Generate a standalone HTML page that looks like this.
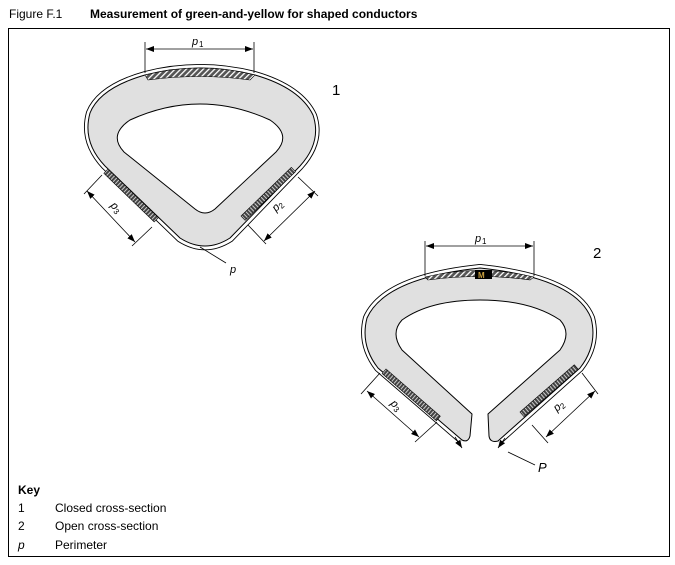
<!DOCTYPE html>
<html><head><meta charset="utf-8"><style>
html,body{margin:0;padding:0;background:#fff;width:675px;height:565px;overflow:hidden}
svg{display:block}
text{font-family:"Liberation Sans",Arial,sans-serif;fill:#000}
</style></head><body>
<svg width="675" height="565" viewBox="0 0 675 565" xmlns="http://www.w3.org/2000/svg">
<defs>
<pattern id="diag" width="4" height="4" patternUnits="userSpaceOnUse" patternTransform="rotate(45)">
<rect width="4" height="4" fill="#555"/><rect width="1.3" height="4" fill="#fff"/>
</pattern>
<pattern id="vs" width="3" height="6" patternUnits="userSpaceOnUse">
<rect width="3" height="6" fill="#444"/><rect width="1" height="6" fill="#ccc"/>
</pattern>
<marker id="ar" markerWidth="8" markerHeight="6" refX="8" refY="3" orient="auto" markerUnits="userSpaceOnUse">
<path d="M0,0 L8,3 L0,6 Z" fill="#000"/></marker>
<marker id="al" markerWidth="8" markerHeight="6" refX="0" refY="3" orient="auto" markerUnits="userSpaceOnUse">
<path d="M8,0 L0,3 L8,6 Z" fill="#000"/></marker>
</defs>
<text x="9" y="18" font-size="12">Figure F.1</text>
<text x="90" y="18" font-size="12" font-weight="bold">Measurement of green-and-yellow for shaped conductors</text>
<rect x="8.5" y="28.5" width="661" height="528" fill="none" stroke="#000" stroke-width="1"/>

<!-- Shape 1 -->
<g stroke-linejoin="round">
<path d="M145,73.5 Q200,59.5 255,73.5 Q301.5,87 314.5,115 Q323.5,142 301,167 L231,239.5 Q205,256 179,239.5 L104,167 Q80.5,142 88.5,112.5 Q99,86.5 145,73.5 Z" fill="none" stroke="#000" stroke-width="5"/>
<path d="M145,73.5 Q200,59.5 255,73.5 Q301.5,87 314.5,115 Q323.5,142 301,167 L231,239.5 Q205,256 179,239.5 L104,167 Q80.5,142 88.5,112.5 Q99,86.5 145,73.5 Z" fill="none" stroke="#fff" stroke-width="3.2"/>
<path fill-rule="evenodd" fill="#e0e0e0" stroke="#000" stroke-width="1" d="M145,75 Q200,61 255,75 Q300,88 313,115 Q322,142 300,166 L230,238 Q205,254 180,238 L105,166 Q82,142 90,113 Q100,88 145,75 Z M130,120 Q200,88 270,120 Q292,135 276,152 L215,209 Q205,217 195,209 L124,152 Q108,135 130,120 Z"/>
<path d="M145,75 Q200,61 255,75 L250,80 Q200,73 148,80 Z" fill="url(#diag)" stroke="#000" stroke-width="0.6"/>
<rect x="0" y="0" width="70" height="6" fill="url(#vs)" stroke="#000" stroke-width="0.6" transform="translate(108,169) rotate(44)"/>
<rect x="0" y="0" width="70" height="6" fill="url(#vs)" stroke="#000" stroke-width="0.6" transform="translate(241,216) rotate(-44)"/>
</g>
<g stroke="#000" stroke-width="0.8" fill="none">
<line x1="145" y1="42" x2="145" y2="73"/><line x1="254" y1="42" x2="254" y2="73"/>
<line x1="146" y1="49" x2="253" y2="49" marker-start="url(#al)" marker-end="url(#ar)"/>
<line x1="248" y1="225" x2="266" y2="244"/><line x1="298" y1="177" x2="318" y2="196"/>
<line x1="264" y1="241" x2="315" y2="191" marker-start="url(#al)" marker-end="url(#ar)"/>
<line x1="102" y1="175" x2="84" y2="194"/><line x1="152" y1="227" x2="132" y2="246"/>
<line x1="87" y1="191" x2="135" y2="242" marker-start="url(#al)" marker-end="url(#ar)"/>
<line x1="200" y1="247" x2="226" y2="263"/>
</g>
<text x="192" y="45" font-size="11" font-style="italic">p</text><text x="199" y="47" font-size="8">1</text>
<text x="332" y="95" font-size="15">1</text>
<text x="0" y="0" font-size="11" font-style="italic" transform="translate(276,212) rotate(-44)">p<tspan font-size="8" font-style="normal" dy="2">2</tspan></text>
<text x="0" y="0" font-size="11" font-style="italic" transform="translate(110,206) rotate(46)">p<tspan font-size="8" font-style="normal" dy="2">3</tspan></text>
<text x="230" y="273" font-size="11" font-style="italic">p</text>

<!-- Shape 2 -->
<g stroke-linejoin="round">
<path d="M461,441.5 L377,369 Q358.5,345 365.5,317.5 Q383.5,276.5 480,266.5 Q576.5,276.5 592.5,317.5 Q599.5,345 581,369 L499,442.5" fill="none" stroke="#000" stroke-width="5"/>
<path d="M461,441.5 L377,369 Q358.5,345 365.5,317.5 Q383.5,276.5 480,266.5 Q576.5,276.5 592.5,317.5 Q599.5,345 581,369 L499,442.5" fill="none" stroke="#fff" stroke-width="3.2"/>
<path fill="#e0e0e0" stroke="#000" stroke-width="1" d="M462,440 L378,368 Q360,345 367,318 Q385,278 480,268 Q575,278 591,318 Q598,345 580,368 L498,441 Q490,443 489,436 L488,414 L560,350 Q572,333 560,320 Q530,300 480,300 Q430,300 402,320 Q390,333 402,350 L472,414 L470,436 Q468,443 462,440 Z"/>
<path d="M425,277 Q480,264 534,277 L530,280 Q480,273 428,280 Z" fill="url(#diag)" stroke="#000" stroke-width="0.6"/>
<rect x="475" y="270" width="17" height="9" fill="#000"/>
<text x="478" y="278" font-size="8" font-weight="bold" style="fill:#c9a040">M</text>
<rect x="0" y="0" width="72" height="6" fill="url(#vs)" stroke="#000" stroke-width="0.6" transform="translate(386,369) rotate(41)"/>
<rect x="0" y="0" width="72" height="6" fill="url(#vs)" stroke="#000" stroke-width="0.6" transform="translate(520,412) rotate(-41)"/>
</g>
<g stroke="#000" stroke-width="0.8" fill="none">
<line x1="425" y1="241" x2="425" y2="276"/><line x1="534" y1="241" x2="534" y2="276"/>
<line x1="426" y1="246" x2="533" y2="246" marker-start="url(#al)" marker-end="url(#ar)"/>
<line x1="380" y1="373" x2="361" y2="394"/><line x1="437" y1="422" x2="415" y2="442"/>
<line x1="367" y1="391" x2="419" y2="437" marker-start="url(#al)" marker-end="url(#ar)"/>
<line x1="582" y1="373" x2="598" y2="394"/><line x1="532" y1="425" x2="548" y2="443"/>
<line x1="546" y1="437" x2="595" y2="391" marker-start="url(#al)" marker-end="url(#ar)"/>
<line x1="455" y1="437" x2="462" y2="448" marker-end="url(#ar)"/>
<line x1="505" y1="438" x2="498" y2="448" marker-end="url(#ar)"/>
<line x1="508" y1="452" x2="535" y2="465"/>
</g>
<text x="475" y="242" font-size="11" font-style="italic">p</text><text x="482" y="244" font-size="8">1</text>
<text x="593" y="258" font-size="15">2</text>
<text x="0" y="0" font-size="11" font-style="italic" transform="translate(557,412) rotate(-41)">p<tspan font-size="8" font-style="normal" dy="2">2</tspan></text>
<text x="0" y="0" font-size="11" font-style="italic" transform="translate(390,404) rotate(45)">p<tspan font-size="8" font-style="normal" dy="2">3</tspan></text>
<text x="538" y="472" font-size="13" font-style="italic">P</text>

<!-- Key -->
<text x="18" y="494" font-size="12" font-weight="bold">Key</text>
<text x="18" y="512" font-size="12">1</text><text x="55" y="512" font-size="12">Closed cross-section</text>
<text x="18" y="530" font-size="12">2</text><text x="55" y="530" font-size="12">Open cross-section</text>
<text x="18" y="549" font-size="12" font-style="italic">p</text><text x="55" y="549" font-size="12">Perimeter</text>
</svg>
</body></html>
